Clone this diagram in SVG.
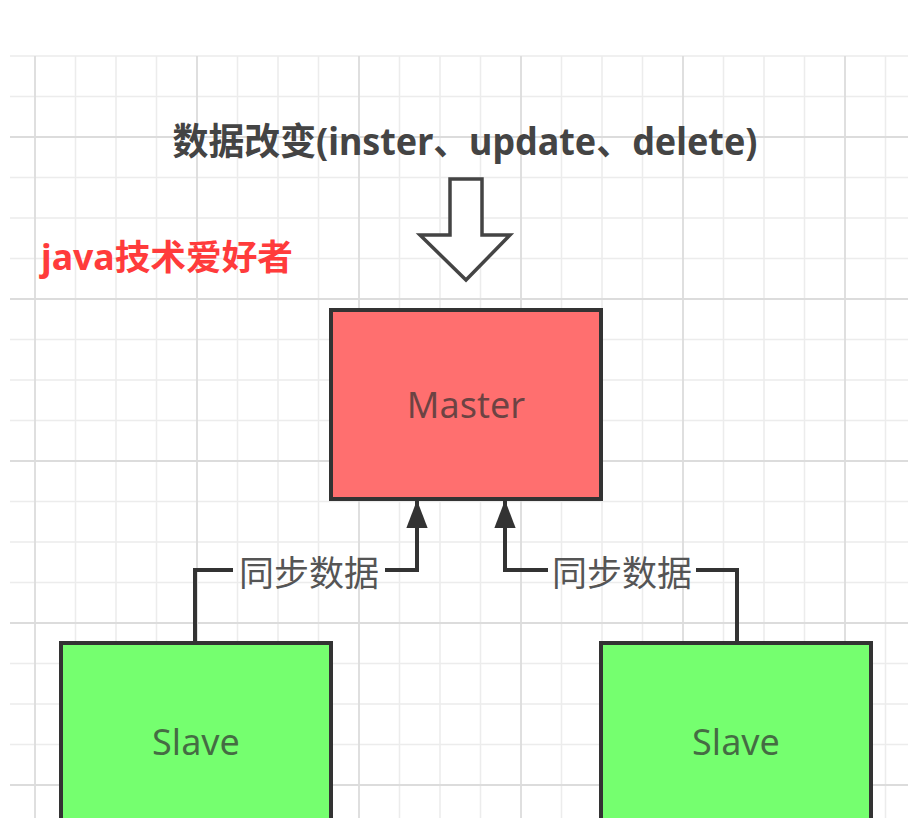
<svg xmlns="http://www.w3.org/2000/svg" width="908" height="818" viewBox="0 0 908 818">
<defs>
<style>
.minor{stroke:#ececec;stroke-width:1.5;fill:none}
.major{stroke:#dcdcdc;stroke-width:1.8;fill:none}
.box{stroke:#333;stroke-width:4}
.lbl{font-family:"Noto Sans","Noto Sans CJK SC",sans-serif;font-size:36px;fill:#333;fill-opacity:0.72;text-anchor:middle}
.edge{stroke:#333;stroke-width:4;fill:none}
.edgelbl{font-family:"Noto Sans CJK SC",sans-serif;font-size:35px;fill:#555;text-anchor:middle}
</style>
<marker id="arr" markerUnits="userSpaceOnUse" markerWidth="28" markerHeight="36" viewBox="0 0 34 26" refX="33" refY="13" orient="auto">
<path d="M0 0 L34 13 L0 26 Z" fill="#333"/>
</marker>
</defs>
<rect width="908" height="818" fill="#fff"/>
<g id="grid">
<path class="minor" d="M75.5 56V818M116 56V818M156.5 56V818M237.5 56V818M278 56V818M318.5 56V818M399.5 56V818M440 56V818M480.5 56V818M561.5 56V818M602 56V818M642.5 56V818M723.5 56V818M764 56V818M804.5 56V818M885.5 56V818M10 56H908M10 96.5H908M10 177.5H908M10 218H908M10 258.5H908M10 339.5H908M10 380H908M10 420.5H908M10 501.5H908M10 542H908M10 582.5H908M10 663.5H908M10 704H908M10 744.5H908"/>
<path class="major" d="M35 56V818M197 56V818M359 56V818M521 56V818M683 56V818M845 56V818M10 137H908M10 299H908M10 461H908M10 623H908M10 785H908"/>
</g>
<g id="title">
<text x="465" y="155" font-family="'Noto Sans','Noto Sans CJK SC',sans-serif" font-size="37" font-weight="bold" fill="#444" text-anchor="middle" textLength="585" lengthAdjust="spacingAndGlyphs">数据改变(inster、update、delete)</text>
</g>
<g id="watermark">
<text x="41" y="270" font-family="'Noto Sans','Noto Sans CJK SC',sans-serif" font-size="35" font-weight="bold" fill="#ff3b3b" textLength="252" lengthAdjust="spacingAndGlyphs">java技术爱好者</text>
</g>
<g id="bigarrow">
<path d="M450 179 H482 V235 H510 L466 280 L420 235 H450 Z" fill="#fff" stroke="#444" stroke-width="3.5" stroke-linejoin="miter"/>
</g>
<g id="master">
<rect class="box" x="331" y="310" width="270" height="189" fill="#ff6f6f"/>
<text class="lbl" x="466" y="418">Master</text>
</g>
<g id="slave1">
<rect class="box" x="61" y="643" width="270" height="190" fill="#75ff6f"/>
<text class="lbl" x="196" y="755">Slave</text>
</g>
<g id="slave2">
<rect class="box" x="601" y="643" width="270" height="190" fill="#75ff6f"/>
<text class="lbl" x="736" y="755">Slave</text>
</g>
<g id="connectors">
<path class="edge" d="M195 643 V570 H233"/>
<path class="edge" d="M385 570 H417 V501" marker-end="url(#arr)"/>
<text class="edgelbl" x="309" y="586">同步数据</text>
<path class="edge" d="M737 643 V570 H696"/>
<path class="edge" d="M548 570 H505 V501" marker-end="url(#arr)"/>
<text class="edgelbl" x="622" y="586">同步数据</text>
</g>
</svg>
